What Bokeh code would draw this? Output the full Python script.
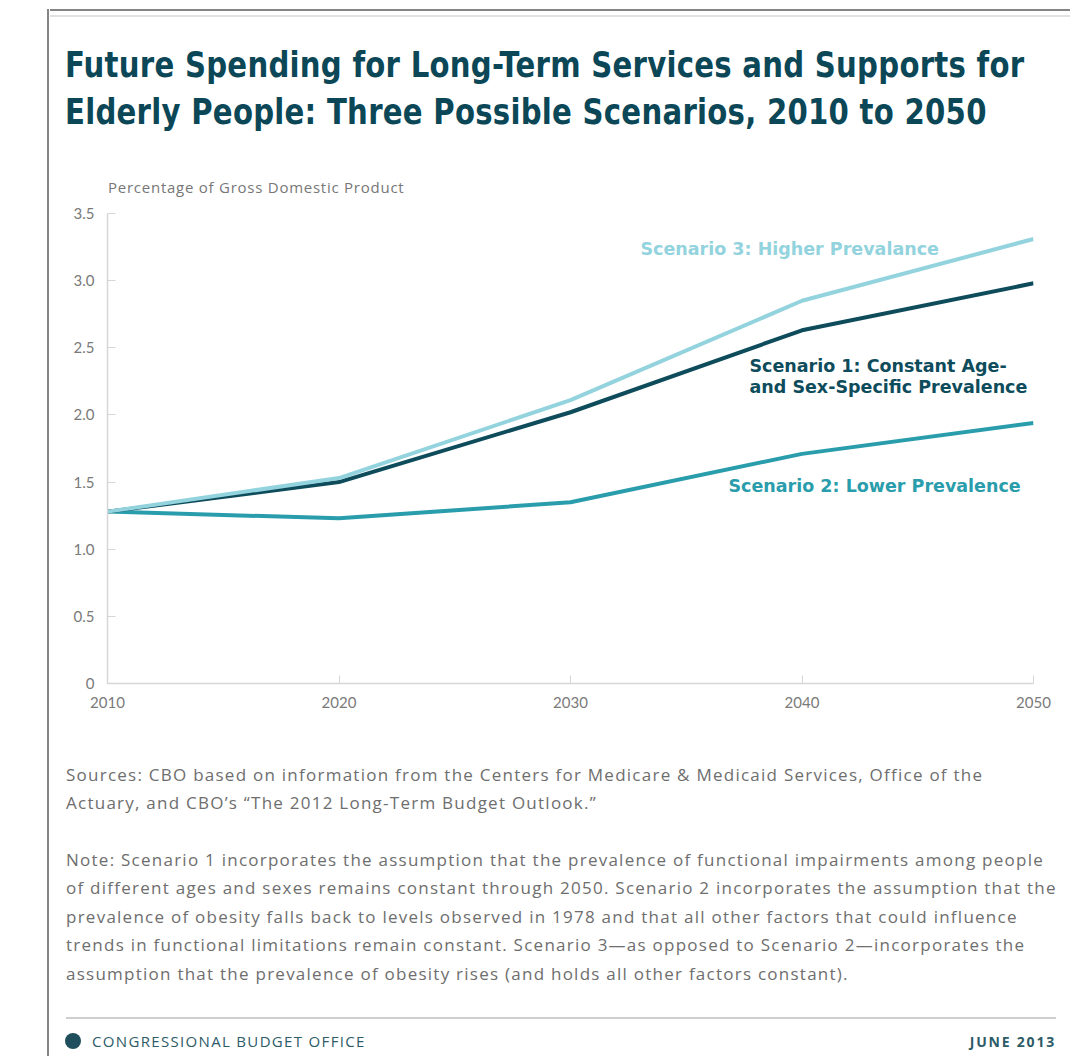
from bokeh.plotting import figure
from bokeh.models import Range1d, FixedTicker, CustomJSTickFormatter, Label, Div
from bokeh.layouts import row, column
from bokeh.embed import file_html
from bokeh.resources import INLINE
import html

# ---- data ----
years = [2010, 2020, 2030, 2040, 2050]
scenario1 = [1.28, 1.50, 2.02, 2.63, 2.98]   # Constant age- and sex-specific prevalence
scenario2 = [1.28, 1.23, 1.35, 1.71, 1.94]   # Lower prevalence
scenario3 = [1.28, 1.53, 2.11, 2.85, 3.31]   # Higher prevalence
x_ticks = [2010, 2020, 2030, 2040, 2050]
x_tick_labels = ["2010", "2020", "2030", "2040", "2050"]
y_ticks = [0, 0.5, 1.0, 1.5, 2.0, 2.5, 3.0, 3.5]
y_tick_labels = ["0", "0.5", "1.0", "1.5", "2.0", "2.5", "3.0", "3.5"]

title_lines = ["Future Spending for Long-Term Services and Supports for",
               "Elderly People: Three Possible Scenarios, 2010 to 2050"]
y_axis_title = "Percentage of Gross Domestic Product"
s3_label = ["Scenario 3: Higher Prevalance"]
s1_label = ["Scenario 1: Constant Age-", "and Sex-Specific Prevalence"]
s2_label = ["Scenario 2: Lower Prevalence"]
sources_lines = [
    "Sources: CBO based on information from the Centers for Medicare & Medicaid Services, Office of the",
    "Actuary, and CBO\u2019s \u201cThe 2012 Long-Term Budget Outlook.\u201d",
]
note_lines = [
    "Note: Scenario 1 incorporates the assumption that the prevalence of functional impairments among people",
    "of different ages and sexes remains constant through 2050. Scenario 2 incorporates the assumption that the",
    "prevalence of obesity falls back to levels observed in 1978 and that all other factors that could influence",
    "trends in functional limitations remain constant. Scenario 3\u2014as opposed to Scenario 2\u2014incorporates the",
    "assumption that the prevalence of obesity rises (and holds all other factors constant).",
]
footer_left = "CONGRESSIONAL BUDGET OFFICE"
footer_right = "JUNE 2013"

# ---- colours ----
C_DARK = "#0e4c5c"
C_MID = "#2a9dac"
C_LIGHT = "#92d3de"
C_TITLE = "#0b4757"
C_GRAY_TXT = "#6e6e6e"
C_AXIS = "#d6d6d6"
C_FOOT = "#2d5b67"
C_BORDER = "#858585"

# ---- page geometry (page pixels) ----
LEFT_W = 50            # left strip holding the card border
COL_W = 1020           # main column width
HEAD_H = 200           # header (title + axis title)
FIG_H = 530            # chart
NOTE_H = 326           # sources, notes, footer
FL, FR, FT, FB = 107, 1033, 213, 683   # plot frame edges on the page


def box(x, y, w, h, color):
    return (f'<div style="position:absolute;left:{x}px;top:{y}px;width:{w}px;'
            f'height:{h}px;background:{color}"></div>')


def txt(s, x, y, size, color, font, weight="normal", lh=20, ls=0, align="left", sx=1.0):
    pos = f"left:{x}px;" if align == "left" else f"right:{x}px;"
    tr = f"transform:scaleX({sx});transform-origin:0 50%;" if sx != 1.0 else ""
    return (f'<div style="position:absolute;{pos}top:{y}px;white-space:nowrap;{tr}'
            f"font-family:{font};font-size:{size}px;font-weight:{weight};color:{color};"
            f'line-height:{lh}px;letter-spacing:{ls}px">{html.escape(s, quote=False)}</div>')


def wrap(w, h, inner):
    return f'<div style="position:relative;width:{w}px;height:{h}px;overflow:visible">{inner}</div>'


# left strip: vertical border of the card
left_html = wrap(LEFT_W, HEAD_H + FIG_H + NOTE_H,
                 box(47, 9, 2, HEAD_H + FIG_H + NOTE_H - 9, C_BORDER))
left_div = Div(text=left_html, width=LEFT_W, height=HEAD_H + FIG_H + NOTE_H, margin=0)

# header
ox = LEFT_W
hdr = box(0, 9, COL_W, 2, C_BORDER) + box(0, 15, COL_W, 1.5, "#e2e2e2")
title_font = "'Liberation Sans Narrow', 'DejaVu Sans Condensed', sans-serif"
hdr += txt(title_lines[0], 65 - ox, 41, 36, C_TITLE, title_font, "bold", lh=47, ls=0.3, sx=0.90)
hdr += txt(title_lines[1], 65 - ox, 88, 36, C_TITLE, title_font, "bold", lh=47, ls=0.3, sx=0.90)
hdr += txt(y_axis_title, 108 - ox, 177, 15, "#777777", "'Open Sans'", lh=20, ls=0.75)
header_div = Div(text=wrap(COL_W, HEAD_H, hdr), width=COL_W, height=HEAD_H, margin=0)

# chart
fig_top = HEAD_H
p = figure(width=COL_W, height=FIG_H, output_backend="svg", toolbar_location=None,
           x_range=Range1d(2010, 2050), y_range=Range1d(0, 3.5),
           min_border_left=FL - ox, min_border_right=ox + COL_W - FR,
           min_border_top=FT - fig_top, min_border_bottom=fig_top + FIG_H - FB,
           background_fill_color="white", border_fill_color="white")
p.outline_line_color = None
p.xgrid.visible = False
p.ygrid.visible = False

p.xaxis.ticker = FixedTicker(ticks=x_ticks)
p.xaxis.formatter = CustomJSTickFormatter(args=dict(t=x_ticks, l=x_tick_labels),
                                          code="const i = t.indexOf(tick); return i >= 0 ? l[i] : '';")
p.yaxis.ticker = FixedTicker(ticks=y_ticks)
p.yaxis.formatter = CustomJSTickFormatter(args=dict(t=y_ticks, l=y_tick_labels),
                                          code="const i = t.indexOf(tick); return i >= 0 ? l[i] : '';")
for ax in (p.xaxis, p.yaxis):
    ax.axis_line_color = C_AXIS
    ax.axis_line_width = 1.5
    ax.major_tick_line_color = C_AXIS
    ax.major_tick_in = 8
    ax.major_tick_out = 0
    ax.minor_tick_line_color = None
    ax.major_label_text_color = "#7a7a7a"
    ax.major_label_text_font = "Lato"
    ax.major_label_text_font_size = "15px"
p.xaxis.major_label_standoff = 13
p.yaxis.major_label_standoff = 13

p.line(years, scenario2, line_color=C_MID, line_width=4, line_join="round")
p.line(years, scenario1, line_color=C_DARK, line_width=4, line_join="round")
p.line(years, scenario3, line_color=C_LIGHT, line_width=4, line_join="round")


def X(px):
    return 2010 + (px - FL) * 40.0 / (FR - FL)


def Y(py):
    return (FB - py) * 3.5 / (FB - FT)


def add_label(text, px, py, color):
    p.add_layout(Label(x=X(px), y=Y(py), text=text, text_font_size="17.5px",
                       text_color=color, text_font="DejaVu Sans", text_font_style="bold",
                       text_align="left", text_baseline="middle"))


add_label(s3_label[0], 640, 248, C_LIGHT)
add_label(s1_label[0], 749, 365, C_DARK)
add_label(s1_label[1], 749, 386, C_DARK)
add_label(s2_label[0], 728, 485, C_MID)

# notes + footer
ny = HEAD_H + FIG_H
nt = ""
body_font = "'Open Sans'"
for i, s in enumerate(sources_lines):
    nt += txt(s, 66 - ox, 775 - 14.5 + i * 28.5 - ny, 17, C_GRAY_TXT, body_font, lh=28, ls=1.25)
for i, s in enumerate(note_lines):
    nt += txt(s, 66 - ox, 860 - 14.5 + i * 28.6 - ny, 17, C_GRAY_TXT, body_font, lh=28, ls=1.25)
nt += box(66 - ox, 1017 - ny, 1056 - 66, 1.5, "#cfcfcf")
nt += (f'<div style="position:absolute;left:{65 - ox}px;top:{1033 - ny}px;width:16px;height:16px;'
       f'border-radius:50%;background:#1f4f5d"></div>')
nt += txt(footer_left, 92 - ox, 1041 - 10.5 - ny, 15, C_FOOT, body_font, lh=20, ls=1.33)
nt += txt(footer_right, COL_W - (1056 - ox), 1042 - 10.5 - ny, 14, C_FOOT, body_font,
          weight="bold", lh=20, ls=1.8, align="right")
notes_div = Div(text=wrap(COL_W, NOTE_H, nt), width=COL_W, height=NOTE_H, margin=0)

layout = row(left_div, column(header_div, p, notes_div, spacing=0), spacing=0)

open("out.html", "w").write(file_html(layout, INLINE))
